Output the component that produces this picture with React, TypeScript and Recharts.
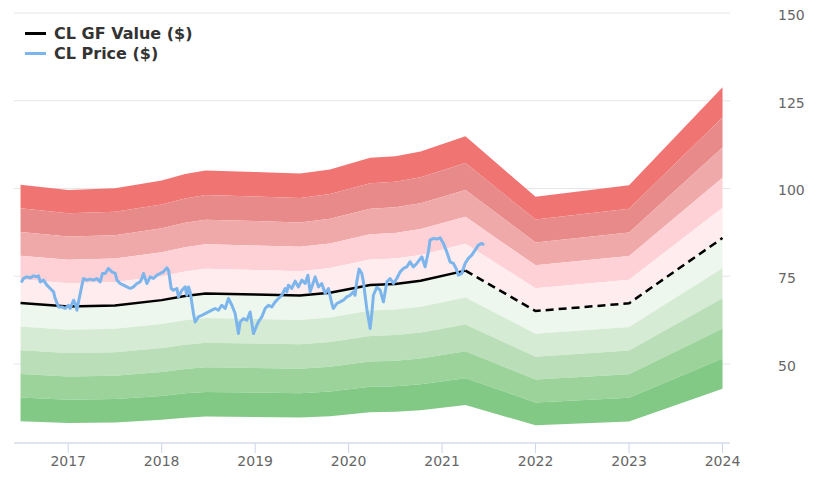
import React from 'react';
import { ComposedChart, Area, Line, XAxis, YAxis, CartesianGrid } from 'recharts';

// GF Value (solid up to 2021.25, projected after)
const gfYears = [2016.49, 2017.0, 2017.5, 2018.0, 2018.25, 2018.47, 2019.0, 2019.48, 2019.8, 2020.23, 2020.5, 2020.77, 2021.25, 2022.0, 2023.0, 2024.0];
const gfValues = [67.4, 66.4, 66.7, 68.2, 69.4, 70.1, 69.8, 69.5, 70.3, 72.5, 72.8, 73.7, 76.6, 65.1, 67.3, 85.9];
const projectionStart = 2021.25;

// band edges as multiples of GF value, top to bottom
const bandMultiples = [1.5, 1.4, 1.3, 1.2, 1.1, 1.0, 0.9, 0.8, 0.7, 0.6, 0.5];
const bandColors = ['#f07472', '#e88a8a', '#f0a9a9', '#fdd1d6', '#ffecee', '#eef7ee', '#d5ebd3', '#badfb8', '#9bd39b', '#82c985'];

// daily price
const priceYears = [
  2016.497, 2016.522, 2016.558, 2016.594, 2016.629, 2016.665, 2016.682, 2016.701, 2016.736, 2016.772,
  2016.808, 2016.843, 2016.861, 2016.896, 2016.933, 2016.968, 2017.003, 2017.021, 2017.057, 2017.075,
  2017.093, 2017.110, 2017.147, 2017.164, 2017.200, 2017.235, 2017.271, 2017.307, 2017.342, 2017.367,
  2017.396, 2017.431, 2017.467, 2017.503, 2017.521, 2017.556, 2017.591, 2017.628, 2017.663, 2017.698,
  2017.735, 2017.770, 2017.788, 2017.805, 2017.842, 2017.877, 2017.912, 2017.949, 2017.984, 2018.019,
  2018.056, 2018.073, 2018.102, 2018.126, 2018.163, 2018.180, 2018.216, 2018.251, 2018.269, 2018.287,
  2018.305, 2018.340, 2018.358, 2018.393, 2018.430, 2018.465, 2018.501, 2018.537, 2018.572, 2018.607,
  2018.644, 2018.679, 2018.714, 2018.751, 2018.786, 2018.821, 2018.839, 2018.875, 2018.911, 2018.946,
  2018.982, 2019.018, 2019.035, 2019.071, 2019.107, 2019.142, 2019.178, 2019.214, 2019.249, 2019.285,
  2019.321, 2019.339, 2019.356, 2019.392, 2019.428, 2019.463, 2019.499, 2019.535, 2019.564, 2019.588,
  2019.606, 2019.642, 2019.677, 2019.713, 2019.748, 2019.784, 2019.820, 2019.837, 2019.874, 2019.909,
  2019.944, 2019.980, 2020.016, 2020.051, 2020.069, 2020.087, 2020.112, 2020.141, 2020.158, 2020.176,
  2020.194, 2020.230, 2020.248, 2020.265, 2020.302, 2020.337, 2020.372, 2020.409, 2020.444, 2020.479,
  2020.515, 2020.551, 2020.586, 2020.622, 2020.657, 2020.693, 2020.729, 2020.783, 2020.818, 2020.853,
  2020.871, 2020.907, 2020.943, 2020.979, 2021.014, 2021.050, 2021.085, 2021.121, 2021.150, 2021.174,
  2021.210, 2021.246, 2021.281, 2021.317, 2021.353, 2021.388, 2021.424, 2021.449,
];
const priceValues = [
  73.23, 74.37, 74.83, 74.54, 75.11, 74.83, 75.11, 73.40, 73.89, 72.46,
  71.52, 70.55, 68.66, 66.27, 66.27, 65.81, 66.75, 65.81, 68.18, 67.24,
  65.33, 67.70, 72.46, 74.37, 73.89, 74.17, 73.89, 74.37, 73.40, 75.80,
  75.80, 77.23, 76.26, 75.80, 73.89, 72.94, 72.46, 71.97, 71.52, 71.97,
  72.94, 73.40, 74.37, 75.80, 72.94, 74.83, 74.37, 75.31, 75.80, 76.26,
  77.40, 76.74, 71.52, 71.03, 71.52, 69.12, 71.03, 71.97, 69.60, 71.97,
  70.55, 64.38, 61.99, 63.41, 63.90, 64.38, 64.84, 65.33, 65.81, 65.33,
  66.75, 65.81, 68.66, 66.75, 64.38, 58.67, 61.99, 62.96, 62.47, 64.84,
  58.67, 61.05, 61.99, 63.41, 65.81, 66.75, 66.27, 67.70, 68.66, 69.60,
  71.52, 70.55, 72.46, 71.52, 73.60, 71.97, 73.89, 72.94, 75.31, 70.55,
  71.97, 74.83, 71.97, 72.94, 70.09, 71.52, 67.24, 65.81, 67.24, 67.70,
  68.18, 69.12, 69.60, 70.55, 69.60, 73.40, 77.03, 75.80, 73.40, 69.60,
  65.81, 60.10, 64.38, 69.60, 71.89, 71.03, 67.70, 73.40, 74.37, 72.94,
  74.37, 76.26, 77.23, 77.68, 79.11, 77.68, 78.65, 80.54, 77.68, 81.96,
  85.30, 85.79, 85.59, 85.96, 84.36, 81.96, 79.11, 78.65, 77.23, 75.31,
  75.80, 78.65, 80.08, 81.02, 82.45, 83.87, 84.36, 83.87,
];

const xTicks = [2017, 2018, 2019, 2020, 2021, 2022, 2023, 2024];
const yTicks = [50, 75, 100, 125, 150];

const bandData = gfYears.map((year, i) => {
  const row: any = { year };
  bandColors.forEach((_, b) => {
    row['b' + b] = [gfValues[i] * bandMultiples[b + 1], gfValues[i] * bandMultiples[b]];
  });
  return row;
});
const gfData = gfYears.map((year, i) => ({ year, gf: gfValues[i] }));
const gfHist = gfData.filter((d) => d.year <= projectionStart);
const gfProj = gfData.filter((d) => d.year >= projectionStart);
const priceData = priceYears.map((year, i) => ({ year, price: priceValues[i] }));

const FONT = '"DejaVu Sans", sans-serif';

const LegendBox = () => (
  <div style={{ position: 'absolute', left: 25, top: 23, fontFamily: FONT, fontSize: 16, fontWeight: 700, color: '#333' }}>
    {[
      { label: 'CL GF Value ($)', color: '#000' },
      { label: 'CL Price ($)', color: '#7cb5ec' },
    ].map((it) => (
      <div key={it.label} style={{ display: 'flex', alignItems: 'center', height: 20 }}>
        <span style={{ display: 'inline-block', width: 21, height: 3, background: it.color, marginRight: 8 }} />
        <span>{it.label}</span>
      </div>
    ))}
  </div>
);

export default function App() {
  return (
    <div style={{ position: 'absolute', left: 0, top: 0, width: 820, height: 492, background: '#fff' }}>
      <ComposedChart width={820} height={492} data={bandData} margin={{ top: 13, right: 0, left: 14, bottom: 19 }}>
        <CartesianGrid vertical={false} stroke="#e6e6e6" strokeWidth={1} />
        <XAxis
          dataKey="year"
          type="number"
          domain={[2016.42, 2024.08]}
          ticks={xTicks}
          allowDataOverflow
          height={30}
          stroke="#ccd6eb"
          tickSize={10}
          tickMargin={3}
          tick={{ fontSize: 14, fill: '#666', fontFamily: FONT }}
        />
        <YAxis
          orientation="right"
          type="number"
          domain={[27.5, 150]}
          ticks={yTicks}
          allowDataOverflow
          width={90}
          axisLine={false}
          tickLine={false}
          tickSize={0}
          tickMargin={48}
          tick={{ fontSize: 14, fill: '#666', fontFamily: FONT, textAnchor: 'start', dy: 2 }}
        />
        {bandColors.map((c, b) => (
          <Area
            key={b}
            type="linear"
            dataKey={'b' + b}
            stroke="none"
            fill={c}
            fillOpacity={1}
            isAnimationActive={false}
            activeDot={false}
          />
        ))}
        <Line data={gfHist} type="linear" dataKey="gf" stroke="#000" strokeWidth={2.5} dot={false} isAnimationActive={false} />
        <Line data={gfProj} type="linear" dataKey="gf" stroke="#000" strokeWidth={2.5} strokeDasharray="8 5" dot={false} isAnimationActive={false} />
        <Line data={priceData} type="linear" dataKey="price" stroke="#7cb5ec" strokeWidth={3} strokeLinejoin="round" dot={false} isAnimationActive={false} />
      </ComposedChart>
      <LegendBox />
    </div>
  );
}
